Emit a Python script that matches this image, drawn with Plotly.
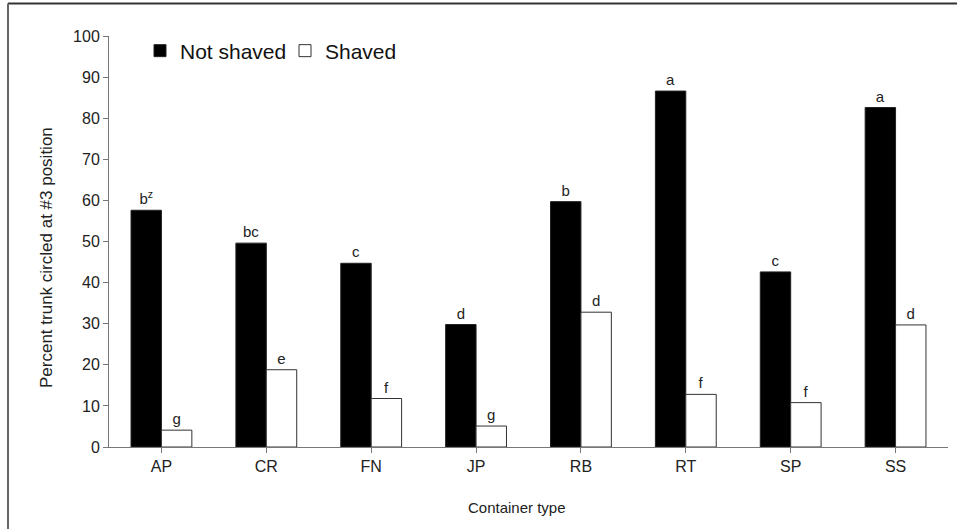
import plotly.graph_objects as go

# Container types on the x axis
containers = ["AP", "CR", "FN", "JP", "RB", "RT", "SP", "SS"]

# Percent of trunks circled at the #3 position
not_shaved = [57.6, 49.6, 44.7, 29.8, 59.7, 86.6, 42.6, 82.6]
shaved = [4.1, 18.8, 11.8, 5.1, 32.8, 12.8, 10.8, 29.7]

# Mean separation letters
not_shaved_letters = ["b<sup>z</sup>", "bc", "c", "d", "b", "a", "c", "a"]
shaved_letters = ["g", "e", "f", "g", "d", "f", "f", "d"]

y_ticks = list(range(0, 101, 10))

FONT = "Liberation Sans, Arial, sans-serif"
W, H = 957, 529
L, R, T, B = 109, 9, 36, 82
PW, PH = W - L - R, H - T - B

fig = go.Figure()
fig.add_trace(go.Bar(
    x=containers, y=not_shaved, name="Not shaved",
    marker=dict(color="black", line=dict(color="#222", width=1)),
    text=not_shaved_letters, textposition="outside",
    textfont=dict(family=FONT, size=15, color="#222"),
    cliponaxis=False,
))
fig.add_trace(go.Bar(
    x=containers, y=shaved, name="Shaved",
    marker=dict(color="white", line=dict(color="#333", width=1)),
    text=shaved_letters, textposition="outside",
    textfont=dict(family=FONT, size=15, color="#222"),
    cliponaxis=False,
))


def px_x(px):
    return (px - L) / PW


def px_y(py):
    return (H - B - py) / PH


fig.update_layout(
    width=W, height=H,
    margin=dict(l=L, r=R, t=T, b=B),
    paper_bgcolor="white", plot_bgcolor="white",
    barmode="group", bargap=0.42, bargroupgap=0,
    font=dict(family=FONT, size=15, color="#222"),
    showlegend=True,
    legend=dict(
        orientation="h", x=px_x(140), y=px_y(51), xanchor="left", yanchor="middle",
        font=dict(family=FONT, size=21, color="#111"),
        itemwidth=30, entrywidth=100, entrywidthmode="pixels",
        bgcolor="rgba(0,0,0,0)", traceorder="normal",
    ),
    xaxis=dict(
        type="category", range=[-0.5, 7.5],
        showline=True, linecolor="#777", linewidth=1,
        ticks="outside", ticklen=5, tickcolor="#777",
        tickfont=dict(family=FONT, size=16, color="#222"),
        showgrid=False, zeroline=False,
    ),
    yaxis=dict(
        range=[0, 100], tickvals=y_ticks,
        showline=True, linecolor="#777", linewidth=1,
        ticks="outside", ticklen=5, tickcolor="#777",
        tickfont=dict(family=FONT, size=16, color="#222"),
        showgrid=False, zeroline=False,
    ),
    annotations=[
        # axis titles, placed as in the original layout
        dict(text="Container type", xref="paper", yref="paper",
             x=px_x(517), y=px_y(508), xanchor="center", yanchor="middle",
             showarrow=False, font=dict(family=FONT, size=15, color="#222")),
        dict(text="Percent trunk circled at #3 position", xref="paper", yref="paper",
             x=px_x(46), y=px_y(258), xanchor="center", yanchor="middle", textangle=-90,
             showarrow=False, font=dict(family=FONT, size=17, color="#222")),
    ],
    shapes=[
        # outer frame: top and left edges
        dict(type="line", xref="paper", yref="paper",
             x0=px_x(8), x1=px_x(957), y0=px_y(3.5), y1=px_y(3.5),
             line=dict(color="#333", width=2)),
        dict(type="line", xref="paper", yref="paper",
             x0=px_x(8), x1=px_x(8), y0=px_y(3.5), y1=px_y(529),
             line=dict(color="#666", width=2)),
    ],
)

fig.write_html("out.html")
